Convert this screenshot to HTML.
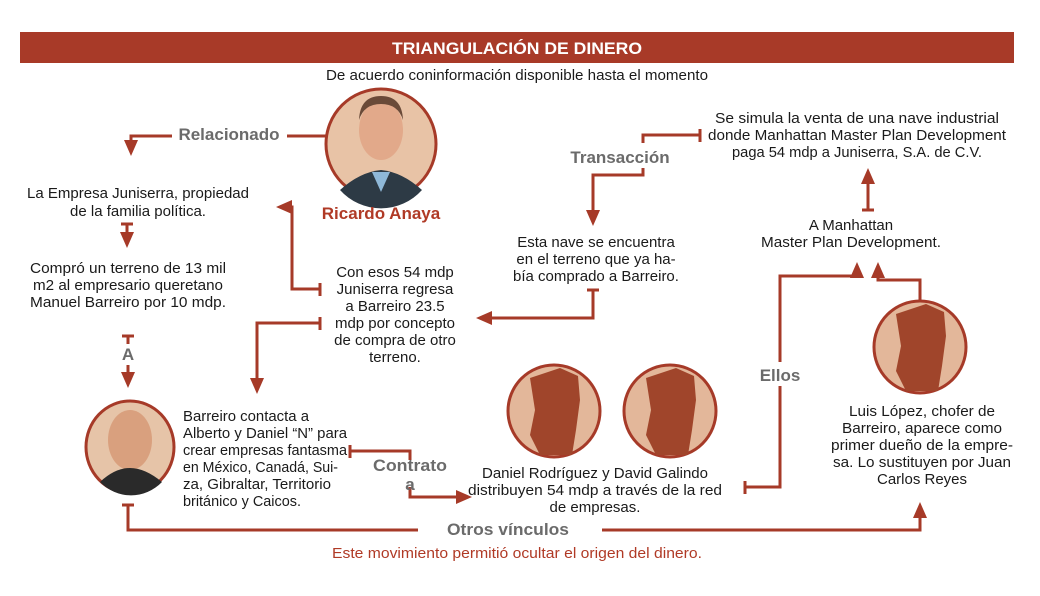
<!DOCTYPE html>
<html><head><meta charset="utf-8"><style>
html,body{margin:0;padding:0;background:#fff;}
svg{display:block;}
text{font-family:"Liberation Sans",sans-serif;}
.t{font-size:15px;fill:#1a1a1a;text-anchor:middle;}
.l{font-size:17px;fill:#6b6b6b;font-weight:bold;text-anchor:middle;}
</style></head><body>
<svg width="1040" height="596" viewBox="0 0 1040 596" xmlns="http://www.w3.org/2000/svg">
<defs>
<marker id="a" markerWidth="16" markerHeight="14" refX="10" refY="7" orient="auto" markerUnits="userSpaceOnUse"><path d="M0,0 L16,7 L0,14 z" fill="#a63a28"/></marker>
</defs>
<rect x="20" y="32" width="994" height="31" fill="#a83a28"/>
<text x="517" y="54" text-anchor="middle" font-size="17" font-weight="bold" fill="#fff" textLength="250" lengthAdjust="spacingAndGlyphs">TRIANGULACIÓN DE DINERO</text>
<text x="517" y="80" text-anchor="middle" font-size="15" fill="#1a1a1a" textLength="382" lengthAdjust="spacingAndGlyphs">De acuerdo coninformación disponible hasta el momento</text>

<g stroke="#a63a28" stroke-width="3" fill="none">
<path d="M287,136 H326"/><path d="M172,136 H131 V150" marker-end="url(#a)"/>
<path d="M121,224 H133 M127,224 V242" marker-end="url(#a)"/>
<path d="M122,336 H134 M128,336 V344"/><path d="M128,365 V382" marker-end="url(#a)"/>
<path d="M320,283 V296 M320,289 H292 V207 H282" marker-end="url(#a)"/>
<path d="M320,317 V330 M320,323 H257 V388" marker-end="url(#a)"/>
<path d="M350,445 V458 M350,451 H410 V460"/>
<path d="M410,487 V497 H466" marker-end="url(#a)"/>
<path d="M587,290 H599 M593,290 V318 H482" marker-end="url(#a)"/>
<path d="M700,129 V142 M700,135 H643 V143"/>
<path d="M643,168 V175 H593 V220" marker-end="url(#a)"/>
<path d="M862,210 H874 M868,210 V174" marker-end="url(#a)"/>
<path d="M745,481 V494 M745,487 H780 V386"/>
<path d="M780,362 V276 H857 V268" marker-end="url(#a)"/>
<path d="M920,300 V280 H878 V268" marker-end="url(#a)"/>
<path d="M122,505 H134 M128,505 V530 H418"/>
<path d="M602,530 H920 V508" marker-end="url(#a)"/>
</g>

<circle cx="381" cy="144" r="55" fill="#e8c3a6" stroke="#a63a28" stroke-width="3"/>
<path d="M340,190 Q360,172 381,170 Q402,172 422,190 A55,55 0 0 1 340,190z" fill="#2d3a45"/>
<path d="M372,172 L381,192 L390,172z" fill="#8fb8d8"/>
<ellipse cx="381" cy="130" rx="22" ry="30" fill="#e2a98a"/>
<path d="M359,120 Q360,96 381,96 Q402,96 403,120 Q398,104 381,104 Q364,104 359,120z" fill="#6a4a38"/>
<text x="381" y="219" text-anchor="middle" font-size="17" font-weight="bold" fill="#b03a26">Ricardo Anaya</text>

<ellipse cx="130" cy="447" rx="44" ry="46" fill="#e6c4a8" stroke="#a63a28" stroke-width="3"/>
<ellipse cx="130" cy="440" rx="22" ry="30" fill="#d9a07e"/>
<path d="M100,482 Q115,468 130,468 Q145,468 162,482 A44,46 0 0 1 100,482z" fill="#2a2a2a"/>

<g>
<circle cx="554" cy="411" r="46" fill="#e3b79a" stroke="#a63a28" stroke-width="3"/>
<path d="M530,378 L560,368 L578,376 L580,400 L576,430 L572,455 L540,455 L530,435 L535,410z" fill="#a0452b"/>
<circle cx="670" cy="411" r="46" fill="#e3b79a" stroke="#a63a28" stroke-width="3"/>
<path d="M646,378 L676,368 L694,376 L696,400 L692,430 L688,455 L656,455 L646,435 L651,410z" fill="#a0452b"/>
<circle cx="920" cy="347" r="46" fill="#e3b79a" stroke="#a63a28" stroke-width="3"/>
<path d="M896,314 L926,304 L944,312 L946,336 L942,366 L938,391 L906,391 L896,371 L901,346z" fill="#a0452b"/>
</g>

<text class="l" x="229" y="140">Relacionado</text>
<text class="l" x="620" y="163">Transacción</text>
<text class="l" x="128" y="360">A</text>
<text class="l" x="410" y="471" textLength="74" lengthAdjust="spacingAndGlyphs">Contrato</text>
<text class="l" x="410" y="490">a</text>
<text class="l" x="780" y="381">Ellos</text>
<text class="l" x="508" y="535" textLength="122" lengthAdjust="spacingAndGlyphs">Otros vínculos</text>

<g class="t">
<text x="138" y="198" class="t" textLength="222" lengthAdjust="spacingAndGlyphs">La Empresa Juniserra, propiedad</text>
<text x="138" y="216" class="t">de la familia política.</text>
<text x="128" y="273" class="t" textLength="196" lengthAdjust="spacingAndGlyphs">Compró un terreno de 13 mil</text>
<text x="128" y="290" class="t" textLength="190" lengthAdjust="spacingAndGlyphs">m2 al empresario queretano</text>
<text x="128" y="307" class="t" textLength="196" lengthAdjust="spacingAndGlyphs">Manuel Barreiro por 10 mdp.</text>
<text x="395" y="277" class="t">Con esos 54 mdp</text>
<text x="395" y="294" class="t">Juniserra regresa</text>
<text x="395" y="311" class="t">a Barreiro 23.5</text>
<text x="395" y="328" class="t">mdp por concepto</text>
<text x="395" y="345" class="t">de compra de otro</text>
<text x="395" y="362" class="t">terreno.</text>
<text x="596" y="247" class="t">Esta nave se encuentra</text>
<text x="596" y="264" class="t">en el terreno que ya ha-</text>
<text x="596" y="281" class="t">bía comprado a Barreiro.</text>
<text x="857" y="123" class="t" textLength="284" lengthAdjust="spacingAndGlyphs">Se simula la venta de una nave industrial</text>
<text x="857" y="140" class="t" textLength="298" lengthAdjust="spacingAndGlyphs">donde Manhattan Master Plan Development</text>
<text x="857" y="157" class="t" textLength="250" lengthAdjust="spacingAndGlyphs">paga 54 mdp a Juniserra, S.A. de C.V.</text>
<text x="851" y="230" class="t">A Manhattan</text>
<text x="851" y="247" class="t" textLength="180" lengthAdjust="spacingAndGlyphs">Master Plan Development.</text>
<text x="595" y="478" class="t" textLength="226" lengthAdjust="spacingAndGlyphs">Daniel Rodríguez y David Galindo</text>
<text x="595" y="495" class="t" textLength="254" lengthAdjust="spacingAndGlyphs">distribuyen 54 mdp a través de la red</text>
<text x="595" y="512" class="t">de empresas.</text>
<text x="922" y="416" class="t" textLength="146" lengthAdjust="spacingAndGlyphs">Luis López, chofer de</text>
<text x="922" y="433" class="t" textLength="160" lengthAdjust="spacingAndGlyphs">Barreiro, aparece como</text>
<text x="922" y="450" class="t" textLength="182" lengthAdjust="spacingAndGlyphs">primer dueño de la empre-</text>
<text x="922" y="467" class="t" textLength="178" lengthAdjust="spacingAndGlyphs">sa. Lo sustituyen por Juan</text>
<text x="922" y="484" class="t">Carlos Reyes</text>
</g>
<g font-size="15" fill="#1a1a1a">
<text x="183" y="421" textLength="126" lengthAdjust="spacingAndGlyphs">Barreiro contacta a</text>
<text x="183" y="438" textLength="164" lengthAdjust="spacingAndGlyphs">Alberto y Daniel “N” para</text>
<text x="183" y="455" textLength="164" lengthAdjust="spacingAndGlyphs">crear empresas fantasma</text>
<text x="183" y="472" textLength="155" lengthAdjust="spacingAndGlyphs">en México, Canadá, Sui-</text>
<text x="183" y="489" textLength="148" lengthAdjust="spacingAndGlyphs">za, Gibraltar, Territorio</text>
<text x="183" y="506" textLength="118" lengthAdjust="spacingAndGlyphs">británico y Caicos.</text>
</g>
<text x="517" y="558" text-anchor="middle" font-size="15" fill="#b03a26" textLength="370" lengthAdjust="spacingAndGlyphs">Este movimiento permitió ocultar el origen del dinero.</text>
</svg>
</body></html>
